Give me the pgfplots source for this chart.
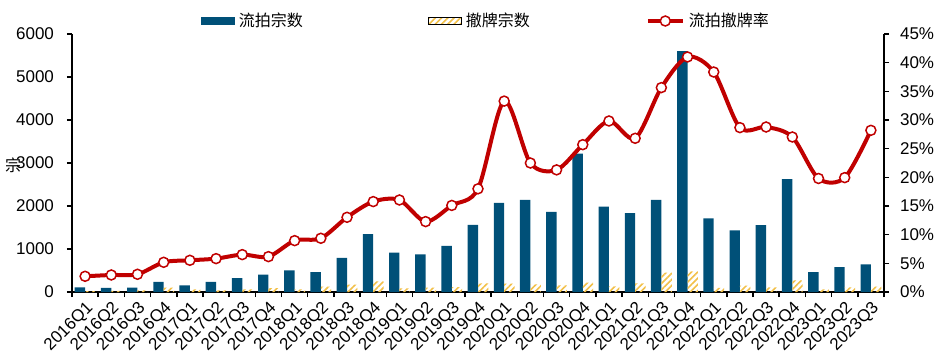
\documentclass[border=0pt]{standalone}
\usepackage{pgfplots}
\pgfplotsset{compat=1.18}
\usepackage{pgfplotstable}
\usepackage{fontspec}
\setmainfont{Liberation Sans}
\newfontfamily\cjk{Noto Sans CJK SC}
\usetikzlibrary{patterns.meta}
\definecolor{barblue}{RGB}{0,80,120}
\definecolor{hatchy}{RGB}{242,192,72}
\definecolor{linered}{RGB}{192,0,0}

\pgfplotstableread{
x liupai chepai rate
0 110 20 2.74
1 95 25 2.97
2 100 40 3.09
3 235 100 5.18
4 155 60 5.53
5 235 40 5.82
6 320 60 6.52
7 405 90 6.17
8 505 60 8.96
9 465 125 9.37
10 795 170 13.03
11 1345 250 15.77
12 915 85 16.05
13 875 100 12.28
14 1070 115 15.1
15 1560 200 18.0
16 2075 195 33.3
17 2140 180 22.5
18 1865 156 21.3
19 3220 219 25.7
20 1985 133 29.83
21 1835 203 26.81
22 2140 453 35.65
23 5600 477 41.0
24 1715 94 38.37
25 1435 148 28.67
26 1555 109 28.78
27 2625 273 27.04
28 460 62 19.8
29 580 109 19.95
30 640 125 28.2
}\datatable

\pgfplotsset{base/.style={
  scale only axis, width=406pt, height=129pt,
  at={(36pt,34pt)}, anchor=south west,
  xmin=-0.5, xmax=30.5,
  /pgf/number format/assume math mode=true,
  tick label style={font=\fontsize{8.5}{10}\selectfont, black},
  axis line style={line width=0.75pt, black, -},
  tick style={line width=0.75pt, black},
  tick align=outside,
  major tick length=2.5pt, minor tick length=2.5pt,
}}

\begin{document}
\begin{tikzpicture}
\path[use as bounding box] (0,0) rectangle (469.5pt,180pt);
\begin{axis}[base, clip=false,
  ymin=0, ymax=6000, ytick={0,1000,...,6000},
  axis x line*=bottom, axis y line*=left,
  xtick={0,...,30},
  xticklabels={2016Q1,2016Q2,2016Q3,2016Q4,2017Q1,2017Q2,2017Q3,2017Q4,2018Q1,2018Q2,2018Q3,2018Q4,2019Q1,2019Q2,2019Q3,2019Q4,2020Q1,2020Q2,2020Q3,2020Q4,2021Q1,2021Q2,2021Q3,2021Q4,2022Q1,2022Q2,2022Q3,2022Q4,2023Q1,2023Q2,2023Q3},
  minor xtick={-0.5,0.5,...,30.5},
  major x tick style={draw=none},
  xticklabel style={rotate=45, anchor=north east, font=\fontsize{8.5}{9}\selectfont, inner sep=1pt},
  scaled y ticks=false,
  yticklabel style={/pgf/number format/1000 sep={}, anchor=east, xshift=-3pt},
]
\addplot[ybar, bar width=5.2pt, bar shift=-2.6pt, fill=barblue, draw=none] table[x=x,y=liupai]{\datatable};
\addplot[ybar, bar width=5.2pt, bar shift=2.6pt, draw=none, pattern={Lines[angle=45,distance=2.2pt,line width=0.8pt]}, pattern color=hatchy] table[x=x,y=chepai]{\datatable};
\node[font=\cjk\fontsize{8}{9}\selectfont, inner sep=0pt, anchor=center] at ([xshift=-29.5pt, yshift=-1.3pt]rel axis cs:0,0.5) {宗};
\end{axis}
\begin{axis}[base,
  ymin=0, ymax=45, ytick={0,5,...,45},
  axis y line*=right, axis x line=none,
  yticklabel={\pgfmathprintnumber{\tick}\%},
  yticklabel style={anchor=west, xshift=2pt},
  legend columns=3,
  legend style={at={(0.5,1)}, anchor=center, yshift=6.5pt, xshift=4.5pt, draw=none, fill=none,
    font=\cjk\fontsize{8}{9}\selectfont, inner sep=0pt,
    /tikz/column 2/.style={column sep=60.5pt},
    /tikz/column 4/.style={column sep=56pt}},
]
\addlegendimage{legend image code/.code={\fill[barblue] (0pt,-1.8pt) rectangle (16.5pt,1.8pt);}}
\addlegendentry{流拍宗数}
\addlegendimage{legend image code/.code={\fill[pattern={Lines[angle=45,distance=2.2pt,line width=0.8pt]}, pattern color=hatchy] (0pt,-1.8pt) rectangle (16.5pt,1.8pt);}}
\addlegendentry{撤牌宗数}
\addplot[smooth, linered, line width=2pt, mark=*, mark size=2.5pt,
  mark options={fill=white, draw=linered, line width=0.75pt},
  legend image code/.code={\draw[linered, line width=2pt] (0pt,0pt) -- (17.5pt,0pt); \draw[linered, fill=white, line width=0.75pt] (8.75pt,0pt) circle (2.5pt);}]
  table[x=x,y=rate]{\datatable};
\addlegendentry{流拍撤牌率}
\end{axis}
\end{tikzpicture}
\end{document}
